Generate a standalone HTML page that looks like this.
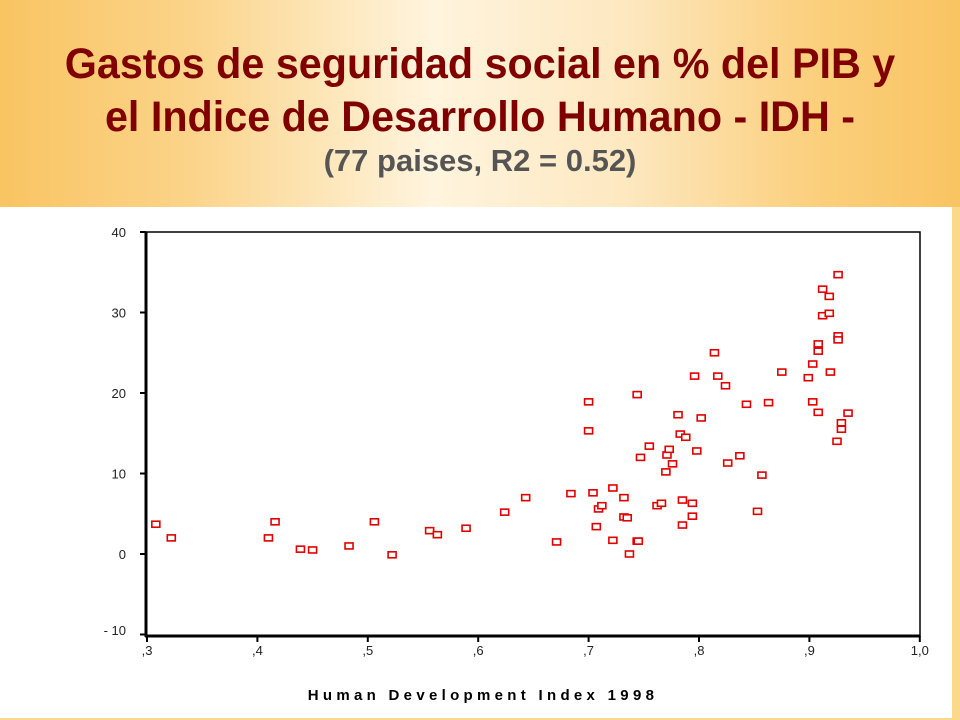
<!DOCTYPE html>
<html><head><meta charset="utf-8"><style>
body{margin:0;width:960px;height:720px;overflow:hidden;font-family:"Liberation Sans",sans-serif;background:#fbd98a;position:relative}
#hdr{position:absolute;left:0;top:0;width:960px;height:207px;background:linear-gradient(90deg,#f9c462 0%,#fbd48a 20%,#fff4de 45%,#fde8c0 65%,#fbcf7c 85%,#f9c462 100%)}
#panel{position:absolute;left:0;top:207px;width:952px;height:511px;background:#fff}
.t{position:absolute;left:0;width:960px;text-align:center;font-weight:bold;white-space:nowrap}
</style></head><body>
<div id="hdr">
<div class="t" style="top:38px;font-size:43px;color:#800000;line-height:53px;transform:scaleX(0.96);transform-origin:480px 0">Gastos de seguridad social en % del PIB y<br>el Indice de Desarrollo Humano - IDH -</div>
<div class="t" style="top:143px;font-size:31px;color:#555;">(77 paises, R2 = 0.52)</div>
</div>
<div id="panel"></div>
<svg id="chart" width="960" height="720" style="position:absolute;left:0;top:0"></svg>
<script>
const xTicks=[0.3,0.4,0.5,0.6,0.7,0.8,0.9,1.0];
const xTickLabels=[",3",",4",",5",",6",",7",",8",",9","1,0"];
const yTicks=[-10,0,10,20,30,40];
const yTickLabels=["- 10","0","10","20","30","40"];
const hdi=[.308,.322,.41,.416,.439,.45,.483,.506,.522,.556,.563,.589,.624,.643,.671,.684,.700,.700,.704,.707,.709,.712,.722,.722,.732,.732,.735,.737,.744,.745,.744,.747,.755,.762,.766,.770,.771,.773,.776,.781,.783,.785,.785,.788,.794,.794,.796,.798,.802,.814,.817,.824,.826,.837,.843,.853,.857,.863,.875,.899,.903,.903,.908,.908,.908,.912,.912,.918,.918,.919,.925,.926,.926,.926,.929,.929,.935];
const gasto=[3.7,2.0,2.0,4.0,0.6,0.5,1.0,4.0,-0.1,2.9,2.4,3.2,5.2,7.0,1.5,7.5,18.9,15.3,7.6,3.4,5.6,6.0,8.2,1.7,7.0,4.6,4.5,0,1.6,1.6,19.8,12.0,13.4,6.0,6.3,10.2,12.3,13.0,11.2,17.3,14.9,6.7,3.6,14.5,6.3,4.7,22.1,12.8,16.9,25.0,22.1,20.9,11.3,12.2,18.6,5.3,9.8,18.8,22.6,21.9,23.6,18.9,17.6,26.1,25.2,32.9,29.6,32.0,29.9,22.6,14.0,34.7,27.1,26.6,16.3,15.5,17.5];
const X=v=>147+(v-0.3)*1104;
const Y=v=>554-v*8.05;
const svg=document.getElementById('chart');
const NS='http://www.w3.org/2000/svg';
function mk(t,a){const e=document.createElementNS(NS,t);for(const k in a)e.setAttribute(k,a[k]);svg.appendChild(e);return e;}
let r=mk('rect',{x:146,y:232,width:774,height:404,fill:'none',stroke:'#000','stroke-width':1.5});


let l=mk('line',{x1:146,y1:232,x2:146,y2:637,stroke:'#000','stroke-width':3});


l=mk('line',{x1:145,y1:636,x2:920,y2:636,stroke:'#000','stroke-width':3});


yTicks.forEach((v,i)=>{
 let tk=mk('line',{x1:140,y1:Y(v),x2:146,y2:Y(v),stroke:'#000','stroke-width':2});
 
 
 let t=mk('text',{x:126,y:Math.min(Y(v),630)+5,'text-anchor':'end','font-size':13,fill:'#222','font-family':'Liberation Sans'});
 t.textContent=yTickLabels[i];
 
 
});
xTicks.forEach((v,i)=>{
 let tk=mk('line',{x1:X(v),y1:636,x2:X(v),y2:642,stroke:'#000','stroke-width':2});
 
 
 let t=mk('text',{x:X(v),y:655,'text-anchor':'middle','font-size':13,fill:'#222','font-family':'Liberation Sans'});
 t.textContent=xTickLabels[i];
 
 
});
let at=mk('text',{x:483,y:700,'text-anchor':'middle','font-size':15,'font-weight':'bold','letter-spacing':'4.3',fill:'#000','font-family':'Liberation Sans'});
at.textContent='Human Development Index 1998';


hdi.forEach((h,i)=>{
 let p=mk('rect',{x:X(h)-4,y:Y(gasto[i])-3,width:8,height:6,fill:'#fff',stroke:'#e00000','stroke-width':1.6});
 
 
});
</script>
</body></html>
